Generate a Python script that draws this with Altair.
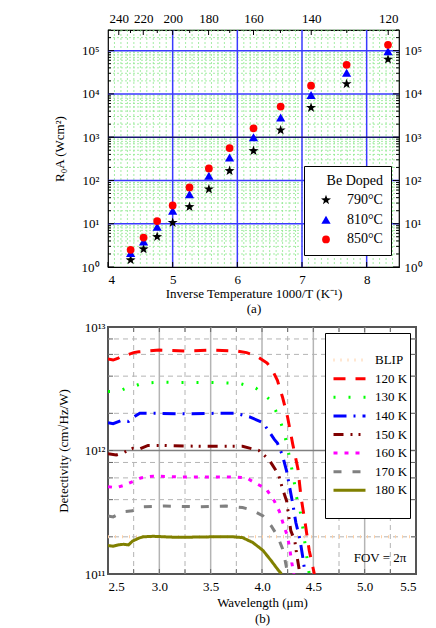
import altair as alt
import pandas as pd

SERIF = "Liberation Serif"

# ---------------- panel (a): R0A vs inverse temperature ----------------
INV_T = [4.35, 4.55, 4.76, 5.00, 5.26, 5.56, 5.88, 6.25, 6.67, 7.14, 7.69, 8.33]
R0A_790 = [1.45, 2.6, 5.0, 10.6, 24.6, 63, 167, 485, 1450, 4800, 17000, 63000]
R0A_810 = [2.1, 3.9, 8.5, 20, 48, 129, 340, 1000, 2850, 9400, 31000, 97000]
R0A_850 = [2.5, 4.8, 11.5, 26.5, 69, 190, 560, 1600, 5100, 15500, 47000, 136000]
SERIES_A = ["790°C", "810°C", "850°C"]
TEMP_LABELS = [240, 220, 200, 180, 160, 140, 120]
TEMP_MINOR = [230, 210, 190, 170, 150, 130]
X_TICKS_A = [4, 5, 6, 7, 8]
DECADES_A = [0, 1, 2, 3, 4, 5]

# ---------------- panel (b): detectivity vs wavelength ----------------
SERIES_B = ["BLIP", "120 K", "130 K", "140 K", "150 K", "160 K", "170 K", "180 K"]
WL_BLIP = [2.5, 5.5]
D_BLIP = [2.0e11, 2.0e11]
WL_120 = [2.50, 2.55, 2.60, 2.65, 2.70, 2.75, 2.80, 2.90, 3.00, 3.25, 3.50, 3.75, 3.85,
          3.95, 4.05, 4.10, 4.15, 4.20, 4.25, 4.30, 4.35, 4.38, 4.42, 4.46, 4.51]
D_120 = [5.5e12, 5.4e12, 5.6e12, 5.9e12, 6.0e12, 6.2e12, 6.3e12, 6.4e12, 6.5e12, 6.4e12,
         6.5e12, 6.4e12, 6.2e12, 5.8e12, 5.1e12, 4.5e12, 3.7e12, 2.7e12, 1.85e12, 1.12e12,
         7.1e11, 4.2e11, 2.6e11, 1.55e11, 1.0e11]
WL_130 = [2.50, 2.60, 2.68, 2.75, 2.83, 3.00, 3.50, 3.78, 3.94, 4.08, 4.16, 4.21, 4.25,
          4.28, 4.31, 4.33, 4.37, 4.40, 4.43, 4.46]
D_130 = [3.0e12, 3.0e12, 3.2e12, 3.3e12, 3.5e12, 3.57e12, 3.55e12, 3.5e12, 3.2e12, 2.57e12,
         1.9e12, 1.45e12, 1.05e12, 7.8e11, 5.9e11, 4.4e11, 3.3e11, 2.3e11, 1.5e11, 1.0e11]
WL_140 = [2.50, 2.55, 2.63, 2.70, 2.73, 2.81, 2.95, 3.25, 3.55, 3.75, 3.88, 4.01, 4.12,
          4.15, 4.20, 4.24, 4.27, 4.30, 4.33, 4.37, 4.40, 4.42]
D_140 = [1.68e12, 1.65e12, 1.75e12, 1.72e12, 1.82e12, 2.0e12, 2.0e12, 1.98e12, 2.0e12,
         2.0e12, 1.87e12, 1.68e12, 1.23e12, 1.15e12, 9.1e11, 6.8e11, 5.0e11, 3.7e11,
         2.6e11, 1.9e11, 1.32e11, 1.0e11]
WL_150 = [2.50, 2.58, 2.65, 2.74, 2.80, 2.89, 3.04, 3.40, 3.81, 3.97, 4.07, 4.16, 4.20,
          4.24, 4.26, 4.28, 4.32, 4.34, 4.37]
D_150 = [9.4e11, 9.2e11, 9.6e11, 1.04e12, 1.02e12, 1.1e12, 1.1e12, 1.08e12, 1.08e12,
         1.0e12, 8.4e11, 6.4e11, 4.9e11, 3.9e11, 2.95e11, 2.25e11, 1.85e11, 1.4e11, 1.0e11]
WL_160 = [2.50, 2.58, 2.65, 2.74, 2.82, 2.94, 3.25, 3.50, 3.75, 3.85, 3.91, 4.04, 4.12,
          4.17, 4.21, 4.25, 4.27, 4.29, 4.31]
D_160 = [5.1e11, 5.0e11, 5.2e11, 5.6e11, 6.0e11, 6.2e11, 6.1e11, 6.1e11, 6.1e11, 6.0e11,
         5.6e11, 4.9e11, 3.9e11, 3.2e11, 2.5e11, 2.0e11, 1.6e11, 1.24e11, 1.0e11]
WL_170 = [2.50, 2.55, 2.65, 2.74, 2.84, 3.05, 3.40, 3.65, 3.81, 3.90, 4.01, 4.09, 4.15,
          4.20, 4.22, 4.25]
D_170 = [2.95e11, 2.9e11, 3.2e11, 3.25e11, 3.5e11, 3.55e11, 3.5e11, 3.55e11, 3.45e11,
         3.3e11, 2.95e11, 2.45e11, 2.04e11, 1.6e11, 1.36e11, 1.0e11]
WL_180 = [2.50, 2.55, 2.60, 2.65, 2.70, 2.74, 2.80, 2.84, 2.94, 3.17, 3.52, 3.72, 3.81,
          3.91, 4.01, 4.09, 4.16, 4.19]
D_180 = [1.7e11, 1.68e11, 1.72e11, 1.74e11, 1.72e11, 1.85e11, 1.95e11, 2.0e11, 2.02e11,
         1.98e11, 2.0e11, 2.0e11, 1.97e11, 1.8e11, 1.55e11, 1.28e11, 1.07e11, 1.0e11]
X_TICKS_B = [2.5, 3.0, 3.5, 4.0, 4.5, 5.0, 5.5]
X_MINOR_B = [2.75, 3.25, 3.75, 4.25, 4.75, 5.25]
DECADES_B = [11, 12, 13]
FOV_TEXT = ["FOV = 2\u03c0"]
FOV_POS = ([5.15], [1.35e11])

# ---------------- helpers ----------------
SUP = str.maketrans("0123456789-", "⁰¹²³⁴⁵⁶⁷⁸⁹⁻")
AX_FONT = dict(labelFont=SERIF, titleFont=SERIF, labelFontSize=13, titleFontSize=13,
               titleFontWeight="normal", labelColor="black", titleColor="black")


def pow_expr(exps):
    expr = "''"
    for e in reversed(exps):
        expr = f"datum.value == {10 ** e} ? '10{str(e).translate(SUP)}' : ({expr})"
    return expr


def rules_x(vals, scale, **mk):
    return alt.Chart(pd.DataFrame({"v": vals})).mark_rule(**mk).encode(
        x=alt.X("v:Q", scale=scale, axis=None))


def rules_y(vals, scale, **mk):
    return alt.Chart(pd.DataFrame({"v": vals})).mark_rule(**mk).encode(
        y=alt.Y("v:Q", scale=scale, axis=None))


def ticks_x(vals, scale, y0, y1, **mk):
    return alt.Chart(pd.DataFrame({"v": vals})).mark_rule(**mk).encode(
        x=alt.X("v:Q", scale=scale, axis=None), y=alt.value(y0), y2=alt.value(y1))


def ticks_y(vals, scale, x0, x1, **mk):
    return alt.Chart(pd.DataFrame({"v": vals})).mark_rule(**mk).encode(
        y=alt.Y("v:Q", scale=scale, axis=None), x=alt.value(x0), x2=alt.value(x1))


# ---------------- panel (a) ----------------
W_A, H_A = 291, 237
XA = alt.Scale(domain=[4, 8.5], nice=False, zero=False)
YA = alt.Scale(type="log", domain=[1, 3e5], nice=False)
STAR = ("M0,-1L0.235,-0.324L0.951,-0.309L0.38,0.124L0.588,0.809L0,0.4L-0.588,0.809"
        "L-0.38,0.124L-0.951,-0.309L-0.235,-0.324Z")

x_minor_a = [round(4 + 0.1 * i, 1) for i in range(1, 45) if i % 10 != 0]
y_minor_a = [m * 10 ** k for k in range(0, 6) for m in range(2, 10) if m * 10 ** k <= 3e5]
y_major_a = [10 ** k for k in DECADES_A]

df_a = pd.DataFrame({
    "invT": INV_T * 3,
    "R0A": R0A_790 + R0A_810 + R0A_850,
    "sample": [s for s in SERIES_A for _ in INV_T],
})

legend_a = alt.Legend(
    title="Be Doped", orient="none", legendX=196, legendY=136,
    fillColor="white", strokeColor="black", padding=8, titleAnchor="end",
    titleFontSize=14, labelFontSize=14, titlePadding=5, rowPadding=5.7,
    symbolOffset=7, labelOffset=14, symbolStrokeWidth=0,
    titleFontWeight="normal", titleFont=SERIF, labelFont=SERIF,
)

points_a = alt.Chart(df_a).mark_point(filled=True, opacity=1, strokeWidth=0).encode(
    x=alt.X("invT:Q", scale=XA, axis=alt.Axis(
        values=X_TICKS_A, format="d", ticks=False, domain=False, grid=False,
        labelPadding=6, title=["Inverse Temperature 1000/T (K\u207b\u00b9)", "(a)"],
        titlePadding=1, titleLineHeight=15, **AX_FONT)),
    y=alt.Y("R0A:Q", scale=YA, axis=alt.Axis(
        values=y_major_a, labelExpr=pow_expr(DECADES_A), ticks=False, domain=False,
        grid=False, labelPadding=9, title="R\u2080A (Wcm\u00b2)", titlePadding=15, **AX_FONT)),
    shape=alt.Shape("sample:N", scale=alt.Scale(domain=SERIES_A, range=[STAR, "triangle-up", "circle"]),
                    legend=legend_a),
    color=alt.Color("sample:N", scale=alt.Scale(domain=SERIES_A, range=["black", "#0000ff", "#ff0000"]),
                    legend=legend_a),
    size=alt.Size("sample:N", scale=alt.Scale(domain=SERIES_A, range=[110, 60, 38]), legend=legend_a),
)

axes2_a = alt.Chart(df_a[df_a["sample"] == SERIES_A[0]]).mark_point(opacity=0).encode(
    x=alt.X("invT:Q", scale=XA, axis=alt.Axis(
        orient="top", values=[1000 / t for t in TEMP_LABELS],
        labelExpr="format(1000/datum.value, '.0f')", ticks=False, domain=False,
        grid=False, labelPadding=5, title=None, **AX_FONT)),
    y=alt.Y("R0A:Q", scale=YA, axis=alt.Axis(
        orient="right", values=y_major_a, labelExpr=pow_expr(DECADES_A), ticks=False,
        domain=False, grid=False, labelPadding=5, title=None, **AX_FONT)),
)

GREEN = "#8ee88e"
BLUE = "#3a3aff"
top = alt.layer(
    rules_x(x_minor_a, XA, color=GREEN, strokeWidth=0.8, strokeDash=[2, 2]),
    rules_y(y_minor_a, YA, color=GREEN, strokeWidth=0.8, strokeDash=[2, 2]),
    rules_x([5, 6, 7, 8], XA, color=BLUE, strokeWidth=1.5),
    rules_y([10, 100, 10000, 100000], YA, color=BLUE, strokeWidth=1.5),
    rules_y([1000], YA, color="#141470", strokeWidth=1.5),
    ticks_x(X_TICKS_A, XA, H_A, H_A - 5, color="black"),
    ticks_x([1000 / t for t in TEMP_LABELS], XA, 0, 5, color="black"),
    ticks_x([1000 / t for t in TEMP_MINOR], XA, 0, 3, color="black"),
    ticks_y(y_major_a, YA, 0, 6, color="black"),
    ticks_y(y_minor_a, YA, 0, 3, color="black"),
    ticks_y(y_major_a, YA, W_A, W_A - 6, color="black"),
    ticks_y(y_minor_a, YA, W_A, W_A - 3, color="black"),
    points_a,
    axes2_a,
).resolve_axis(x="independent", y="independent").properties(
    width=W_A, height=H_A, view=alt.ViewBackground(stroke="black", strokeWidth=1.2))

# ---------------- panel (b) ----------------
W_B, H_B = 308, 247
XB = alt.Scale(domain=[2.5, 5.5], nice=False, zero=False)
YB = alt.Scale(type="log", domain=[1e11, 1e13], nice=False)

wl_lists = [WL_BLIP, WL_120, WL_130, WL_140, WL_150, WL_160, WL_170, WL_180]
d_lists = [D_BLIP, D_120, D_130, D_140, D_150, D_160, D_170, D_180]
df_b = pd.DataFrame({
    "wl": [w for wl in wl_lists for w in wl],
    "D": [d for dl in d_lists for d in dl],
    "series": [s for s, wl in zip(SERIES_B, wl_lists) for _ in wl],
})

LEG_DOMAIN = [" "] + SERIES_B + ["  "]
COLORS_B = ["transparent", "#ffcfa4", "#ff0000", "#00ff00", "#0000ff", "#800000",
            "#ff00ff", "#808080", "#808000", "transparent"]
DASHES_B = [[1, 0], [1, 6], [12, 10], [2, 13], [13, 7, 2, 7], [10, 7, 2, 6, 2, 7],
            [4, 7], [8, 11], [1, 0], [1, 0]]

legend_b = alt.Legend(
    title=None, orient="none", legendX=217, legendY=6, fillColor="white",
    strokeColor="black", padding=2, symbolType="stroke", symbolSize=1024,
    symbolStrokeWidth=3, clipHeight=13, rowPadding=4.6, symbolOffset=5,
    labelOffset=8, labelFontSize=13, labelFont=SERIF,
)

y_minor_b = [m * 10 ** k for k in (11, 12) for m in (2, 4, 6, 8)]
y_all_b = y_minor_b + [1e12]
x_all_b = X_TICKS_B[1:-1] + X_MINOR_B

lines_b = alt.Chart(df_b).mark_line(strokeWidth=3, clip=True).encode(
    x=alt.X("wl:Q", scale=XB, axis=alt.Axis(
        values=X_TICKS_B, format=".1f", ticks=False, domain=False, grid=False,
        labelPadding=6, title=["Wavelength (\u03bcm)", "(b)"], titlePadding=3,
        titleLineHeight=16, **AX_FONT)),
    y=alt.Y("D:Q", scale=YB, axis=alt.Axis(
        values=[10 ** k for k in DECADES_B], labelExpr=pow_expr(DECADES_B), ticks=False,
        domain=False, grid=False, labelPadding=3, title="Detectivity (cm\u221aHz/W)",
        titlePadding=14, **AX_FONT)),
    color=alt.Color("series:N", scale=alt.Scale(domain=LEG_DOMAIN, range=COLORS_B), legend=legend_b),
    strokeDash=alt.StrokeDash("series:N", scale=alt.Scale(domain=LEG_DOMAIN, range=DASHES_B),
                              legend=legend_b),
    order=alt.Order("wl:Q"),
)

fov = alt.Chart(pd.DataFrame({"wl": FOV_POS[0], "D": FOV_POS[1], "t": FOV_TEXT})).mark_text(
    fontSize=13, font=SERIF, color="black").encode(
    x=alt.X("wl:Q", scale=XB, axis=None), y=alt.Y("D:Q", scale=YB, axis=None), text="t:N")

GRID_B = "#b4b4b4"
TICK_B = "#666666"
bottom = alt.layer(
    rules_x(X_TICKS_B[1:-1], XB, color=GRID_B, strokeWidth=1.5),
    rules_x(X_MINOR_B, XB, color=GRID_B, strokeWidth=1, strokeDash=[5, 4]),
    rules_y(y_minor_b, YB, color=GRID_B, strokeWidth=1, strokeDash=[5, 4]),
    rules_y([1e12], YB, color="#808080", strokeWidth=1.5),
    ticks_x(x_all_b, XB, H_B, H_B - 5, color=TICK_B),
    ticks_x(x_all_b, XB, 0, 5, color=TICK_B),
    ticks_y(y_all_b, YB, 0, 5, color=TICK_B),
    ticks_y(y_all_b, YB, W_B, W_B - 5, color=TICK_B),
    lines_b,
    fov,
).resolve_axis(x="independent", y="independent").properties(
    width=W_B, height=H_B, view=alt.ViewBackground(stroke="#555555", strokeWidth=2))

chart = alt.vconcat(top, bottom, spacing=4).resolve_scale(
    color="independent", shape="independent", size="independent", strokeDash="independent"
).resolve_legend(
    color="independent", shape="independent", size="independent", strokeDash="independent"
).properties(
    padding={"left": 44, "top": 3, "right": 2, "bottom": 0}
).configure(font=SERIF).configure_axis(**AX_FONT).configure_legend(
    labelColor="black", titleColor="black")

chart.save("out.html", embed_options={"renderer": "svg", "actions": False})
